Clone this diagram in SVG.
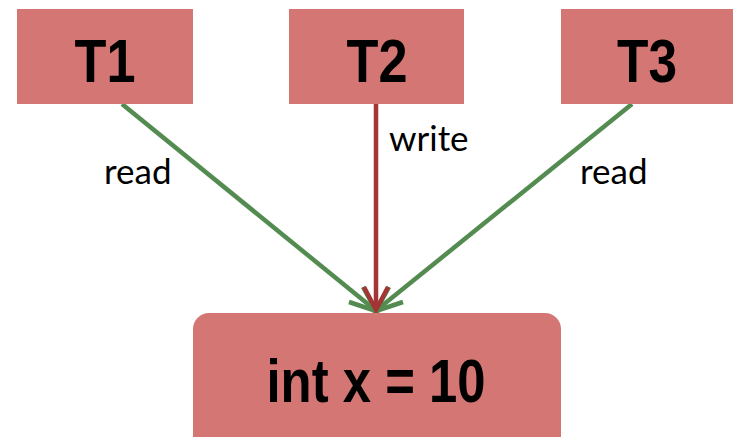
<svg xmlns="http://www.w3.org/2000/svg" width="733" height="437" viewBox="0 0 733 437">
<style>
.box{fill:#d47674;}
.big{font-family:"Liberation Sans Narrow","Liberation Sans",Arial,sans-serif;font-weight:bold;font-size:61px;fill:#000;text-anchor:middle;font-stretch:condensed;}
.lbl{font-family:Lato,"Liberation Sans",sans-serif;font-size:35px;fill:#000;}
.g{stroke:#548b50;stroke-width:4.5;fill:none;}
.r{stroke:#a33535;stroke-width:4.5;fill:none;}
</style>
<g id="connectors">
<line class="g" x1="122" y1="104" x2="374" y2="309"/>
<polyline class="g" points="349,302 376,311 363,287"/>
<line class="g" x1="632" y1="104" x2="378" y2="309"/>
<polyline class="g" points="403,302 376,311 389,287"/>
<line class="r" x1="376" y1="104" x2="376" y2="308"/>
<polyline class="r" points="364,287 376,310 388,287"/>
<text class="lbl" x="104" y="184">read</text>
<text class="lbl" x="389" y="151">write</text>
<text class="lbl" x="580" y="184">read</text>
</g>
<g id="T1"><rect class="box" x="17" y="9" width="176" height="95"/><text class="big" x="105" y="82" textLength="61" lengthAdjust="spacingAndGlyphs">T1</text></g>
<g id="T2"><rect class="box" x="289" y="9" width="175" height="95"/><text class="big" x="377" y="82" textLength="61" lengthAdjust="spacingAndGlyphs">T2</text></g>
<g id="T3"><rect class="box" x="561" y="9" width="172" height="95"/><text class="big" x="647" y="82" textLength="60" lengthAdjust="spacingAndGlyphs">T3</text></g>
<g id="x"><rect class="box" x="193" y="313" width="368" height="140" rx="16"/><text class="big" x="376" y="402" textLength="219" lengthAdjust="spacingAndGlyphs">int x = 10</text></g>
</svg>
